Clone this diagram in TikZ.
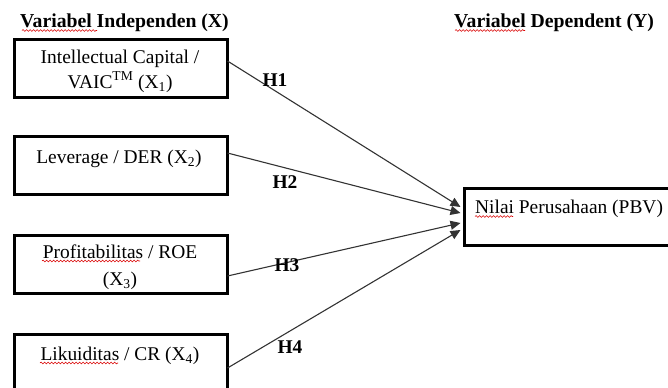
\documentclass[tikz,border=0pt]{standalone}
\usepackage{fontspec}
\setmainfont{Liberation Serif}
\usetikzlibrary{arrows.meta,decorations.pathmorphing}
\begin{document}
\begin{tikzpicture}[x=1bp,y=-1bp,
  varbox/.style={draw=black,line width=3bp,minimum width=213bp,minimum height=58bp,
    anchor=north west,inner sep=0pt,outer sep=0pt},
  boxtext/.style={anchor=base,inner sep=0pt,font=\fontsize{19.5}{23}\selectfont},
  heading/.style={anchor=base west,inner sep=0pt,font=\fontsize{19.8}{23}\selectfont\bfseries},
  hyp/.style={inner sep=0pt,font=\fontsize{19.5}{23}\selectfont\bfseries},
  link/.style={draw=black!80,line width=1.1bp,-{Triangle[length=10bp,width=9bp]}},
  spell/.style={draw=red!85!black,line width=0.6bp,
    decorate,decoration={snake,segment length=3.5bp,amplitude=0.9bp}}
]
\useasboundingbox (0,0) rectangle (668,387);
\clip (0,0) rectangle (668,387);

% headings
\node[heading] (hx) at (20,27) {Variabel Independen (X)};
\node[heading] (hy) at (454,27) {Variabel Dependent (Y)};

% independent variable boxes
\node[varbox] (x1) at (14.5,39.5) {};
\node[varbox] (x2) at (14.5,136.5) {};
\node[varbox] (x3) at (14.5,235.5) {};
\node[varbox,minimum height=120bp] (x4) at (14.5,334.5) {};

% dependent variable box (runs past the right edge)
\node[varbox,minimum width=260bp,minimum height=57bp] (y) at (464.5,188.5) {};

% box texts
\node[boxtext] (t1a) at (120,63) {Intellectual Capital /};
\node[boxtext] (t1b) at (120,88) {VAIC\textsuperscript{TM} (X\textsubscript{1})};
\node[boxtext] (t2) at (119,163) {Leverage / DER (X\textsubscript{2})};
\node[boxtext] (t3a) at (120,258) {Profitabilitas / ROE};
\node[boxtext] (t3b) at (120,285) {(X\textsubscript{3})};
\node[boxtext] (t4) at (120,360) {Likuiditas / CR (X\textsubscript{4})};
\node[boxtext,anchor=base west] (ty) at (475,213) {Nilai Perusahaan (PBV)};

% hypothesis paths
\draw[link] ([yshift=7.5bp]x1.east) -- ([xshift=-4bp,yshift=10bp]y.west);
\draw[link] ([yshift=12.5bp]x2.east) -- ([xshift=-4bp,yshift=4bp]y.west);
\draw[link] ([yshift=-11.5bp]x3.east) -- ([xshift=-4bp,yshift=-6bp]y.west);
\draw[link] ([yshift=26.5bp]x4.east) -- ([xshift=-4bp,yshift=-13bp]y.west);

\node[hyp] (h1) at (275,80) {H1};
\node[hyp] (h2) at (285,182) {H2};
\node[hyp] (h3) at (287,265) {H3};
\node[hyp] (h4) at (290,347) {H4};

% spell-check underlines
\draw[spell] (22,30.5) -- (97,30.5);
\draw[spell] (455,30.5) -- (525,30.5);
\draw[spell] (42,261) -- (140,261);
\draw[spell] (40,363) -- (118,363);
\draw[spell] (475,216.5) -- (513,216.5);
\end{tikzpicture}
\end{document}
